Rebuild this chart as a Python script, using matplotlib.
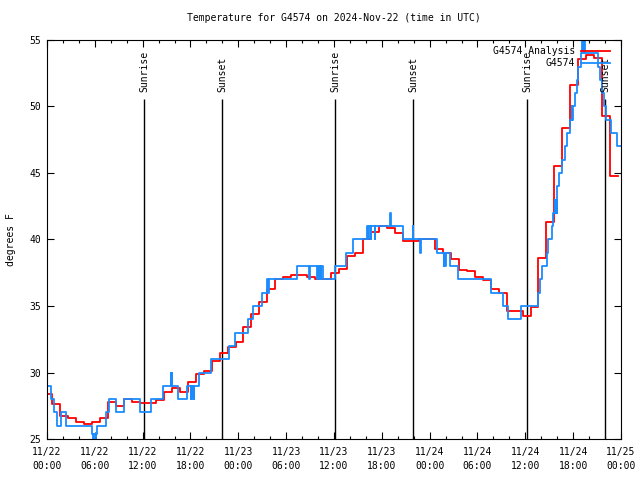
import matplotlib
matplotlib.use('Agg')
import matplotlib.pyplot as plt
from matplotlib.ticker import MultipleLocator

plt.rcParams['font.family'] = ['DejaVu Sans Mono']
plt.rcParams['font.size'] = 7

# hours since 2024-11-22 00:00 UTC
analysis_hours = [0, 0.65, 1.65, 2.65, 3.65, 4.65, 5.65, 6.65, 7.65, 8.65, 9.65,
                  10.65, 11.65, 12.65, 13.65, 14.65, 15.65, 16.65, 17.65, 18.65, 19.65,
                  20.65, 21.65, 22.65, 23.65, 24.65, 25.65, 26.65, 27.65, 28.65, 29.65,
                  30.65, 31.65, 32.65, 33.65, 34.65, 35.65, 36.65, 37.65, 38.65, 39.65,
                  40.65, 41.65, 42.65, 43.65, 44.65, 45.65, 46.65, 47.65, 48.65, 49.65,
                  50.65, 51.65, 52.65, 53.65, 54.65, 55.65, 56.65, 57.65, 58.65, 59.65,
                  60.65, 61.65, 62.65, 63.65, 64.65, 65.65, 66.65, 67.65, 68.65, 69.65,
                  70.65, 71.65]
analysis_temp = [28.4, 27.6, 26.7, 26.55, 26.3, 26.1, 26.25, 26.6, 27.75, 27.5,
                 28.0, 27.75, 27.7, 27.7, 27.95, 28.5, 28.85, 28.55, 29.3, 29.9,
                 30.1, 30.85, 31.45, 31.95, 32.3, 33.4, 34.4, 35.3, 36.3, 37.0,
                 37.15, 37.3, 37.3, 37.2, 37.0, 37.0, 37.5, 37.8, 38.75, 38.95,
                 40.05, 40.6, 41.05, 40.85, 40.5, 39.9, 39.9, 40.0, 40.0, 39.3,
                 38.95, 38.5, 37.7, 37.6, 37.15, 36.95, 36.25, 36.0, 34.6, 34.6,
                 34.25, 34.9, 38.6, 41.35, 45.5, 48.4, 51.6, 53.55, 53.9, 53.65,
                 49.3, 44.8, 44.8]

obs_hours = [0, 0.46, 0.88, 1.29, 1.79, 2.42, 5.61, 5.81, 5.87, 6.10, 6.16, 6.31,
             7.36, 7.78, 8.69, 9.66, 11.63, 13.08, 14.59, 15.52, 15.58, 15.68, 15.74,
             16.43, 17.52, 18.03, 18.09, 18.24, 18.30, 18.44, 18.50, 19.10, 20.57,
             22.87, 23.58, 25.21, 25.84, 26.91, 27.63, 27.72, 27.79, 31.42, 32.87,
             32.93, 33.91, 33.97, 34.16, 34.22, 34.37, 34.43, 34.66, 36.19, 37.51,
             38.39, 40.18, 40.31, 40.37, 40.61, 40.67, 41.11, 41.17, 43.03, 43.09,
             44.69, 45.87, 45.94, 46.85, 46.92, 48.92, 49.80, 49.86, 49.95, 50.01,
             50.55, 51.59, 55.66, 57.14, 57.87, 59.52, 61.63, 61.84, 62.05, 62.68,
             62.88, 63.31, 63.51, 63.66, 63.72, 63.89, 63.95, 64.01, 64.26, 64.56,
             64.98, 65.19, 65.61, 65.80, 65.86, 66.02, 66.27, 66.45, 66.65, 66.95,
             67.17, 67.24, 67.42, 67.49, 69.12, 69.37, 69.62, 69.87, 70.06, 70.75,
             71.50, 72.0]
obs_temp = [29, 28, 27, 26, 27, 26, 25.4, 24, 25.4, 24, 25.4, 26,
            27, 28, 27, 28, 27, 28, 29, 30, 29, 30, 29,
            28, 29, 28, 29, 28, 29, 28, 29, 30, 31,
            32, 33, 34, 35, 36, 37, 36, 37, 38, 37,
            38, 37, 38, 37, 38, 37, 38, 37, 38, 39,
            40, 41, 40, 41, 40, 41, 40, 41, 42, 41,
            40, 41, 40, 39, 40, 39, 38, 39, 38, 39,
            38, 37, 36, 35, 34, 35, 36, 37, 38, 39,
            40, 41, 42, 43, 42, 43, 42, 44, 45, 46,
            47, 48, 49, 50, 49, 50, 51, 52, 53, 54,
            56, 54, 56, 54, 53, 52, 51, 50, 49, 48,
            47, 47]

sun_hours = [12.2, 22.0, 36.13, 45.95, 60.2, 70.0]
sun_labels = ['Sunrise', 'Sunset', 'Sunrise', 'Sunset', 'Sunrise', 'Sunset']

tick_hours = [0, 6, 12, 18, 24, 30, 36, 42, 48, 54, 60, 66, 72]
tick_labels = ['11/22\n00:00', '11/22\n06:00', '11/22\n12:00', '11/22\n18:00',
               '11/23\n00:00', '11/23\n06:00', '11/23\n12:00', '11/23\n18:00',
               '11/24\n00:00', '11/24\n06:00', '11/24\n12:00', '11/24\n18:00',
               '11/25\n00:00']

fig = plt.figure(figsize=(6.4, 4.8), dpi=100)
ax = fig.add_axes([0.0734, 0.0854, 0.8969, 0.8313])

# sunrise / sunset markers
for t, lab in zip(sun_hours, sun_labels):
    ax.vlines(t, 25, 50.55, color='black', lw=1)
    ax.text(t, 51.1, lab, rotation=90, ha='center', va='bottom')

ax.step(analysis_hours, analysis_temp, where='post', color='#ff0000', lw=1.3,
        label='G4574 Analysis')
ax.step(obs_hours, obs_temp, where='post', color='#1a8cff', lw=1.3,
        label='G4574')

ax.set_xlim(0, 72)
ax.set_ylim(25, 55)
ax.set_xticks(tick_hours)
ax.set_xticklabels(tick_labels, linespacing=1.4)
ax.xaxis.set_minor_locator(MultipleLocator(2))
ax.set_yticks([25, 30, 35, 40, 45, 50, 55])
ax.tick_params(which='both', direction='in', top=True, right=True)
ax.tick_params(which='major', length=5, width=0.8)
ax.tick_params(which='minor', length=2.5, width=0.8)
ax.tick_params(axis='x', pad=6)
ax.tick_params(axis='y', pad=4)

ax.set_title('Temperature for G4574 on 2024-Nov-22 (time in UTC)', fontsize=7, pad=14)
ax.set_ylabel('degrees F', labelpad=10)

ax.legend(loc='upper right', bbox_to_anchor=(0.981, 0.985), frameon=False,
          markerfirst=False, handlelength=3.0, handletextpad=0.6,
          labelspacing=0.25, borderpad=0, borderaxespad=0)

fig.savefig('out.png', dpi=100)
